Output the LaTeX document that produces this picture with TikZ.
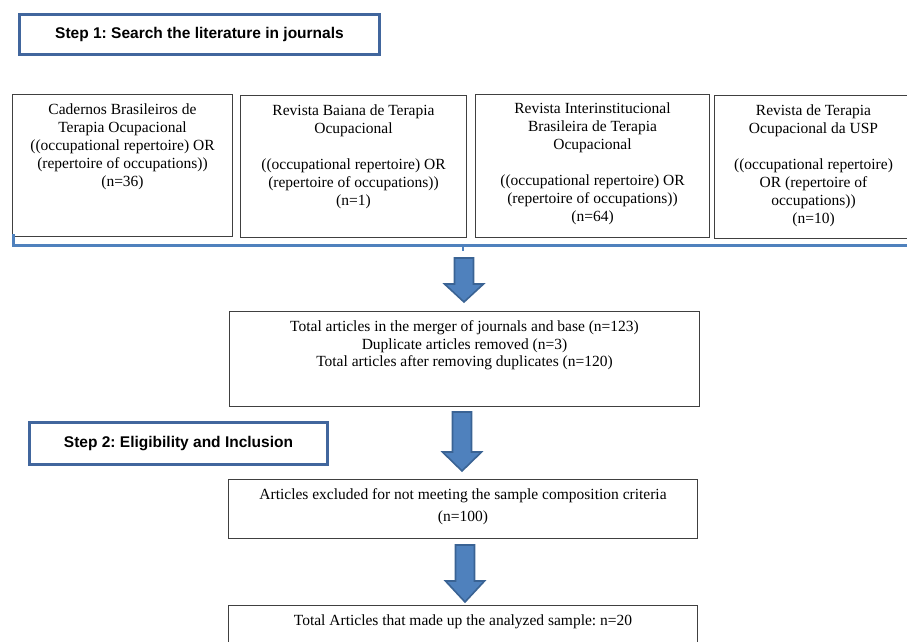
\documentclass[tikz,border=0pt]{standalone}
\usepackage{fontspec}
\setmainfont{Liberation Serif}
\newfontfamily\stepfont{Liberation Sans}
\usetikzlibrary{positioning}
\frenchspacing

\definecolor{stepblue}{HTML}{41669D}
\definecolor{arrowfill}{HTML}{4F81BD}
\definecolor{arrowline}{HTML}{3A6394}

\tikzset{
  jbox/.style={draw=black!75, line width=1pt, inner sep=0pt, anchor=north west},
  jtext/.style={align=center, inner sep=0pt, font=\fontsize{15.5}{17.9}\selectfont},
  stepbox/.style={draw=stepblue, line width=3pt, inner sep=0pt, anchor=north west,
    font=\stepfont\bfseries\fontsize{15.5}{17.9}\selectfont},
  blockarrow/.style={fill=arrowfill, draw=arrowline, line width=1.6pt},
  bracket/.style={draw=arrowfill, line width=3pt},
}

\begin{document}
\begin{tikzpicture}[x=1pt, y=-1pt]
  \useasboundingbox (0, 0) rectangle (907, 641);

  % etape 1
  \node[stepbox, minimum width=360pt, minimum height=40pt] (step1) at (18, 13)
    {Step 1: Search the literature in journals};

  % revues
  \node[jbox, minimum width=220pt, minimum height=142pt] (j1) at (12, 94) {};
  \node[jbox, minimum width=226pt, minimum height=142pt] (j2) at (240, 95) {};
  \node[jbox, minimum width=234pt, minimum height=143pt] (j3) at (475, 94) {};
  \node[jbox, minimum width=198pt, minimum height=143pt] (j4) at (714, 95) {};

  \node[jtext, below=10pt of j1.north] (t1) {Cadernos Brasileiros de\\ Terapia Ocupacional\\
    ((occupational repertoire) OR\\ (repertoire of occupations))\\ (n=36)};
  \node[jtext, below=10pt of j2.north] (t2) {Revista Baiana de Terapia\\ Ocupacional\\[17.9pt]
    ((occupational repertoire) OR\\ (repertoire of occupations))\\ (n=1)};
  \node[jtext, below=9pt of j3.north] (t3) {Revista Interinstitucional\\ Brasileira de Terapia\\
    Ocupacional\\[17.9pt] ((occupational repertoire) OR\\ (repertoire of occupations))\\ (n=64)};
  \node[jtext, below=10pt of j4.north] (t4) {Revista de Terapia\\ Ocupacional da USP\\[17.9pt]
    ((occupational repertoire)\\ OR (repertoire of\\ occupations))\\ (n=10)};

  % accolade bleue
  \coordinate (brk) at (463, 245);
  \draw[bracket] ([xshift=1.5pt, yshift=3pt]j1.south west) |- (912, 245);
  \draw[draw=arrowfill, line width=2.5pt] (brk) -- +(0, 6);

  % fusion
  \node[jbox, minimum width=470pt, minimum height=95pt] (merge) at (229, 311) {};
  \node[jtext, below=9pt of merge.north] (tm) {Total articles in the merger of journals and base (n=123)\\
    Duplicate articles removed (n=3)\\ Total articles after removing duplicates (n=120)};

  % etape 2
  \node[stepbox, minimum width=298pt, minimum height=42pt] (step2) at (28, 421)
    {Step 2: Eligibility and Inclusion};

  \node[jbox, minimum width=469pt, minimum height=59pt] (excl) at (228, 479) {};
  \node[jtext, below=9pt of excl.north] (te) {Articles excluded for not meeting the sample composition criteria\\[4pt]
    (n=100)};

  \node[jbox, minimum width=469pt, minimum height=60pt] (final) at (228, 605) {};
  \node[jtext, below=10pt of final.north] (tf) {Total Articles that made up the analyzed sample: n=20};

  % fleches
  \foreach \xa/\ya/\yb/\yc in {464/258/284/302, 462/412/452/471, 465/545/581/602}
    \draw[blockarrow] (\xa-9.5, \ya) -- (\xa+9.5, \ya) -- (\xa+9.5, \yb) -- (\xa+19.5, \yb)
      -- (\xa, \yc) -- (\xa-19.5, \yb) -- (\xa-9.5, \yb) -- cycle;
\end{tikzpicture}
\end{document}
